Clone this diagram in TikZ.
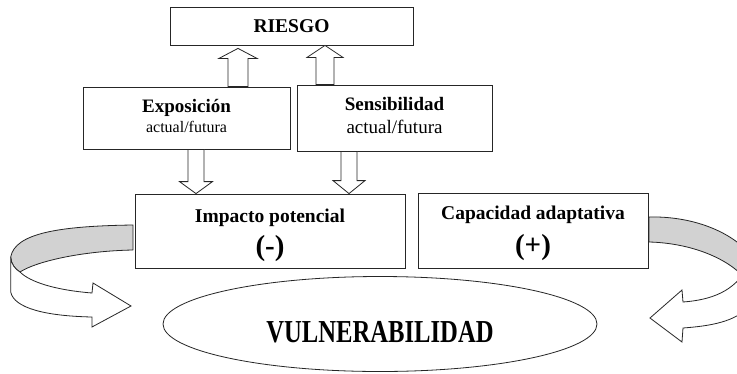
\documentclass[tikz,border=0pt]{standalone}
\usepackage{fontspec}
\setmainfont{Liberation Serif}
\usepackage{graphicx}
\usetikzlibrary{calc,shapes.geometric}
\tikzset{
  box/.style={draw=black!85, line width=0.8pt, fill=white, inner sep=0pt},
  barrow/.style={draw=black!85, line width=0.8pt, fill=white, line join=miter},
  ribbonback/.style={draw=black!85, line width=0.8pt, fill=gray!35, line join=round},
  ribbonfront/.style={draw=black!85, line width=0.8pt, fill=white, line join=miter},
  lbl/.style={anchor=base, inner sep=0pt},
}
% #1 base point, #2 tip point, #3 shaft half width, #4 head half width, #5 signed head length (canvas)
\newcommand\blockarrow[5]{%
  \draw[barrow] let \p1=(#1), \p2=(#2) in
    ({\x1-#3pt},\y1) -- ({\x1-#3pt},{\y2+(#5pt)}) -- ({\x1-#4pt},{\y2+(#5pt)}) --
    (\x1,\y2) -- ({\x1+#4pt},{\y2+(#5pt)}) -- ({\x1+#3pt},{\y2+(#5pt)}) --
    ({\x1+#3pt},\y1) -- cycle;}
\begin{document}
\begin{tikzpicture}[x=1pt,y=-1pt]
\useasboundingbox (0,0) rectangle (737,373);
\fill[white] (0,0) rectangle (737,373);

% boxes
\node[box, minimum width=243pt, minimum height=38pt] (riesgo) at (291.5,26)
  {\fontsize{19.5}{21}\selectfont\bfseries RIESGO};
\node[box, minimum width=207pt, minimum height=62pt] (expo) at (186.5,118) {};
\node[box, minimum width=195pt, minimum height=66pt] (sens) at (394.5,118) {};
\node[box, minimum width=270pt, minimum height=74pt] (impacto) at (270,231) {};
\node[box, minimum width=230pt, minimum height=75pt] (capac) at (533,230.5) {};
\node[draw=black!85, line width=0.8pt, ellipse, inner sep=0pt,
      minimum width=434pt, minimum height=95pt] (vuln) at (380,324) {};

% texts
\node[lbl] (expot) at ($(expo.center)+(0,-6)$) {\fontsize{19}{21}\selectfont\bfseries Exposición};
\node[lbl] (expos) at ($(expo.center)+(0,14)$) {\fontsize{16}{18}\selectfont actual/futura};
\node[lbl] (senst) at ($(sens.center)+(0,-8)$) {\fontsize{19}{21}\selectfont\bfseries Sensibilidad};
\node[lbl] (senss) at ($(sens.center)+(0,15)$) {\fontsize{19}{21}\selectfont actual/futura};
\node[lbl] (impt) at ($(impacto.center)+(0,-9)$) {\fontsize{19.5}{22}\selectfont\bfseries Impacto potencial};
\node[lbl] (imps) at ($(impacto.center)+(0,24)$) {\fontsize{29}{32}\selectfont\bfseries (-)};
\node[lbl] (capt) at ($(capac.center)+(0,-11)$) {\fontsize{19.5}{22}\selectfont\bfseries Capacidad adaptativa};
\node[lbl] (caps) at ($(capac.center)+(0,23.5)$) {\fontsize{29}{32}\selectfont\bfseries (+)};
\node[lbl] (vulnt) at ($(vuln.center)+(0,18)$) {\scalebox{0.77}[1]{\fontsize{32}{34}\selectfont\bfseries VULNERABILIDAD}};

% block arrows
\blockarrow{$(expo.north)+(51.5,0)$}{$(riesgo.south)+(-53.5,3)$}{10}{19}{-10}
\blockarrow{$(sens.north)+(-69.5,0)$}{$(riesgo.south)+(33.5,0)$}{9}{18}{-12}
\blockarrow{$(expo.south)+(9.5,0)$}{$(impacto.north)+(-74,0)$}{8}{16.5}{12}
\blockarrow{$(sens.south)+(-45.5,0)$}{$(impacto.north)+(79,0)$}{8}{16}{13}

% left curved ribbon arrow (Impacto -> Vulnerabilidad)
\draw[ribbonback] (133,225) .. controls (60,226) and (15,233) .. (10.7,257)
  .. controls (11,264) and (15,269) .. (20,272)
  .. controls (35,262) and (80,251) .. (133,250) -- cycle;
\draw[ribbonfront] (10.7,257) -- (10.7,292) .. controls (14,308) and (45,316) .. (92,317)
  -- (92,327) -- (131,306) -- (93,283) -- (92,293)
  .. controls (55,290) and (30,282) .. (20,272)
  .. controls (15,269) and (11,264) .. (10.7,257) -- cycle;

% right curved ribbon arrow (Capacidad -> Vulnerabilidad), cut by the picture edge
\begin{scope}
\clip (0,0) rectangle (737,373);
\draw[ribbonback] (649,217) .. controls (690,216) and (728,230) .. (748,252)
  -- (748,282) .. controls (730,258) and (690,243) .. (649,242) -- cycle;
\draw[ribbonfront] (748,266) .. controls (735,292) and (710,300) .. (683,302)
  -- (682,290) -- (650,318) -- (682,342) -- (683,328)
  .. controls (710,326) and (735,322) .. (750,306) -- cycle;
\end{scope}
\end{tikzpicture}
\end{document}
